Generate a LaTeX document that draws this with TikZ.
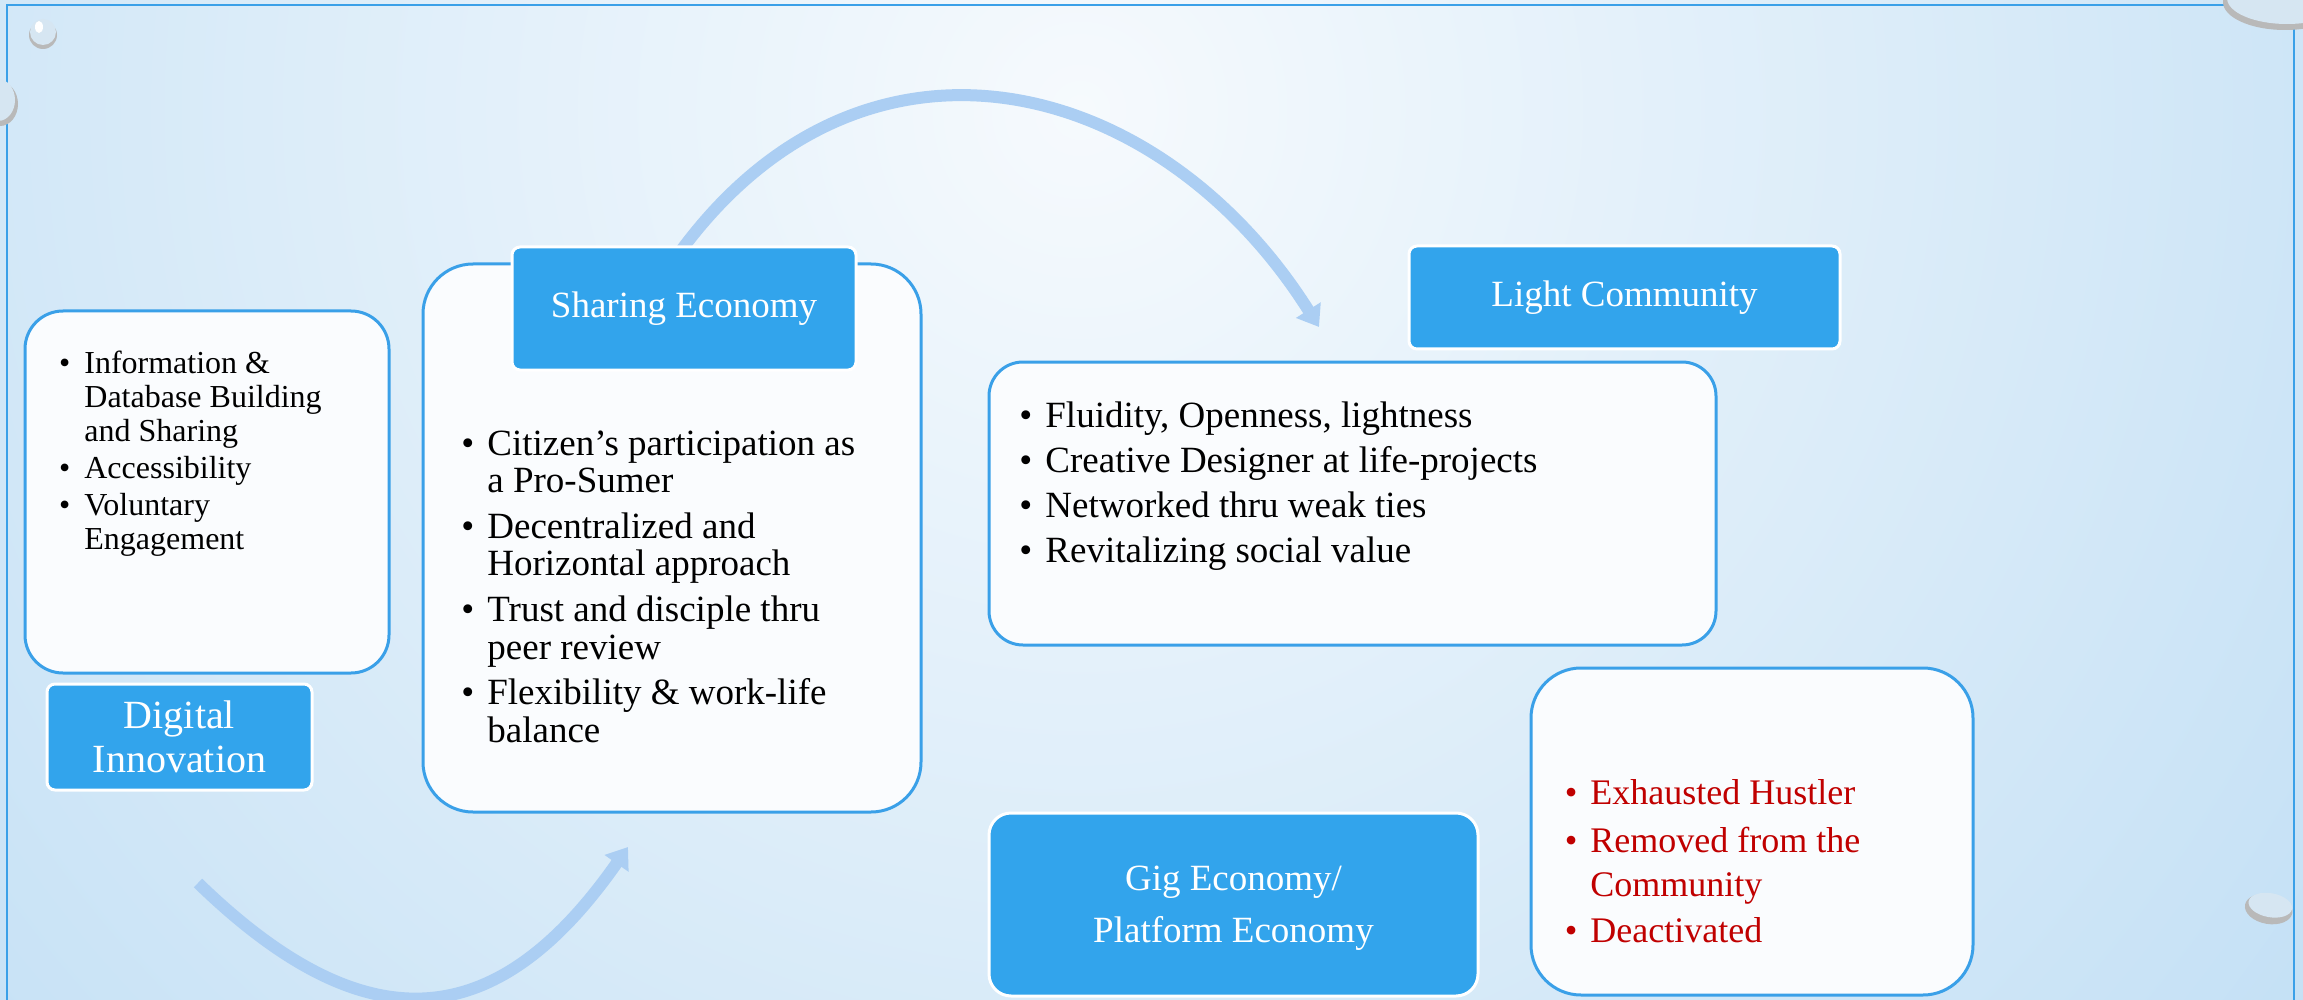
\documentclass[tikz,border=0pt]{standalone}
\usepackage{fontspec}
\setmainfont{Liberation Serif}
\usepackage{tikz}
\usetikzlibrary{positioning, arrows.meta}

\definecolor{bgEdge}{RGB}{182,217,243}
\definecolor{bgCore}{RGB}{246,250,253}
\definecolor{boxBlue}{RGB}{50,164,236}
\definecolor{lineBlue}{RGB}{58,160,232}
\definecolor{paleWhite}{RGB}{250,252,254}
\definecolor{arrowBlue}{RGB}{171,206,243}
\definecolor{hustleRed}{RGB}{192,0,0}
\definecolor{dropFill}{RGB}{214,230,242}

\tikzstyle{tagbox} = [draw=white, line width=1.5pt, fill=boxBlue, rounded corners=4pt, text=white, align=center, font=\fontsize{18.5}{26}\selectfont]
\tikzstyle{listbox} = [draw=lineBlue, line width=1.5pt, fill=paleWhite, rounded corners=20pt]
\tikzstyle{listtext} = [anchor=north west, inner sep=0pt, align=left]
\tikzstyle{flow} = [line width=6pt, arrowBlue, -{Triangle[width=14pt,length=10pt]}]

\newcommand{\listdot}[1][6.5pt]{\llap{\textbullet\hspace{#1}}}

\begin{document}
\begin{tikzpicture}[x=0.5pt, y=-0.5pt]
  \useasboundingbox (0,0) rectangle (2303,1000);
  \clip (0,0) rectangle (2303,1000);

  % Background
  \fill[bgEdge] (0,0) rectangle (2303,1000);
  \shade[inner color=bgCore, outer color=bgEdge] (1080,110) circle (1950);
  \draw[lineBlue, line width=1pt] (7,5) rectangle (2294,1020);

  % Water drops
  \fill[gray!55] (43,35) circle (14);
  \fill[dropFill] (43,32) circle (13);
  \fill[white] (39,27) ellipse (4 and 6);
  \fill[gray!55] (0,104) ellipse (18 and 22);
  \fill[dropFill] (-2,100) ellipse (17 and 21);
  \fill[gray!55] (2285,2) ellipse (62 and 28);
  \fill[dropFill] (2287,-2) ellipse (60 and 26);
  \fill[gray!55, rotate around={-10:(2269,907)}] (2269,909) ellipse (24 and 15);
  \fill[dropFill, rotate around={-10:(2269,907)}] (2270,905) ellipse (22 and 12);

  % Arrows
  \coordinate (upStart) at (680,252);
  \coordinate (upEnd) at (1319,327);
  \coordinate (loStart) at (198,883);
  \coordinate (loEnd) at (628,847);
  \draw[flow] (upStart) .. controls (865,0) and (1160,75) .. (upEnd);
  \draw[flow] (loStart) .. controls (370,1050) and (500,1030) .. (loEnd);

  % Digital Innovation
  \node[listbox, rounded corners=19pt, minimum width=182pt, minimum height=181pt] (diBox) at (207,492) {};
  \node[listtext, font=\fontsize{16}{17}\selectfont] (diList) at (84,351)
    {\listdot[7pt]Information \&\\Database Building\\and Sharing\\[1.5pt]\listdot[7pt]Accessibility\\[1.5pt]\listdot[7pt]Voluntary\\Engagement};
  \node[tagbox, minimum width=132.5pt, minimum height=53pt, font=\fontsize{20}{22}\selectfont] (diTag) at (179.5,737) {Digital\\Innovation};

  % Sharing Economy
  \node[listbox, rounded corners=25pt, minimum width=249pt, minimum height=274pt] (seBox) at (672,538) {};
  \node[tagbox, minimum width=172pt, minimum height=61.5pt] (seTag) at (684,308.5) {Sharing Economy};
  \node[listtext, font=\fontsize{18.5}{18.8}\selectfont] (seList) at (487,430)
    {\listdot Citizen’s participation as\\a Pro-Sumer\\[4pt]\listdot Decentralized and\\Horizontal approach\\[4pt]\listdot Trust and disciple thru\\peer review\\[4pt]\listdot Flexibility \& work-life\\balance};

  % Light Community
  \node[tagbox, minimum width=215.5pt, minimum height=51.5pt] (lcTag) at (1624.5,297.5) {Light Community};
  \node[listbox, rounded corners=17pt, minimum width=363.5pt, minimum height=141.5pt] (lcBox) at (1352.5,503.5) {};
  \node[listtext, font=\fontsize{18.5}{22.5}\selectfont] (lcList) at (1045,401)
    {\listdot Fluidity, Openness, lightness\\\listdot Creative Designer at life-projects\\\listdot Networked thru weak ties\\\listdot Revitalizing social value};

  % Gig Economy
  \node[tagbox, rounded corners=11pt, minimum width=244.5pt, minimum height=91.5pt, text depth=-8pt] (gigTag) at (1233.5,904.5) {Gig Economy/\\Platform Economy};
  \node[listbox, rounded corners=25pt, minimum width=221pt, minimum height=163.5pt] (gigBox) at (1752,831.5) {};
  \node[listtext, text=hustleRed, font=\fontsize{18}{22}\selectfont] (gigList) at (1590,779)
    {\listdot Exhausted Hustler\\[2pt]\listdot Removed from the\\Community\\[1pt]\listdot Deactivated};
\end{tikzpicture}
\end{document}
